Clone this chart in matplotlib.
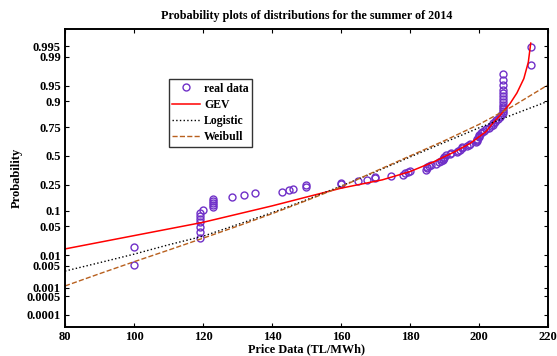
import numpy as np
import matplotlib
matplotlib.use('Agg')
import matplotlib.pyplot as plt
from statistics import NormalDist

# sorted summer 2014 prices
prices = [100, 100,
          119, 119, 119, 119, 119, 119, 119, 120,
          123, 123, 123, 123, 123,
          128.5, 132, 135,
          143, 145, 146, 150, 150,
          160, 160, 165, 167.5, 170, 170, 174.5, 178, 178.5, 179.5, 180,
          184.5, 185, 185, 185.5, 186, 187.5, 188.5, 189, 189.5, 189.5, 190, 190, 190.5,
          191.5, 192, 193.5, 194, 194.5, 195, 195, 196.5, 197, 197.5,
          199, 199.5, 199.5, 199.5, 200, 200, 200, 200.5,
          201, 201.5, 202, 203, 203.5, 204, 204, 204.5, 205, 205.5, 206, 206.5,
          207, 207, 207, 207, 207, 207, 207, 207, 207, 207, 207, 207, 207,
          215, 215]

# fitted curves
gev_x = [80, 100, 120, 140, 160, 172, 180, 187, 193, 197.5, 202, 204, 206, 207, 209, 211, 213, 214.3, 215]
gev_p = [0.0147, 0.031, 0.060, 0.121, 0.225, 0.288, 0.357, 0.447, 0.540, 0.617, 0.715, 0.778,
         0.826, 0.85, 0.89, 0.93, 0.965, 0.986, 0.9959]

logi_x = [80, 90, 100, 110, 120, 130, 140, 150, 160, 170, 180, 190, 200, 210, 220]
logi_p = [0.0035, 0.0062, 0.0107, 0.0187, 0.030, 0.054, 0.092, 0.152, 0.240, 0.355, 0.49, 0.625,
          0.745, 0.835, 0.90]

weib_x = [80, 90, 100, 110, 120, 130, 140, 150, 160, 170, 180, 190, 200, 210, 220]
weib_p = [0.00116, 0.0029, 0.0066, 0.0137, 0.027, 0.050, 0.088, 0.148, 0.235, 0.36, 0.50, 0.64,
          0.77, 0.88, 0.952]

prob_ticks = [0.0001, 0.0005, 0.001, 0.005, 0.01, 0.05, 0.1, 0.25, 0.5, 0.75, 0.9, 0.95, 0.99, 0.995]
prob_labels = ['0.0001', '0.0005', '0.001', '0.005', '0.01', '0.05', '0.1', '0.25', '0.5',
               '0.75', '0.9', '0.95', '0.99', '0.995']

nd = NormalDist()
_ppf = np.vectorize(nd.inv_cdf, otypes=[float])
_cdf = np.vectorize(nd.cdf, otypes=[float])

def fwd(p):
    p = np.clip(np.asarray(p, dtype=float), 1e-12, 1 - 1e-12)
    return _ppf(p)

def inv(z):
    return _cdf(np.asarray(z, dtype=float))

n = len(prices)
pp = (np.arange(1, n + 1) - 0.5) / n

plt.rcParams['font.family'] = ['Liberation Serif', 'DejaVu Serif']
plt.rcParams['font.weight'] = 'bold'

fig = plt.figure(figsize=(5.57, 3.56), dpi=100)
ax = fig.add_axes([0.1167, 0.0823, 0.8671, 0.8362])
ax.set_yscale('function', functions=(fwd, inv))

ax.plot(prices, pp, 'o', mfc='none', mec='#7030c8', ms=5, mew=1, label='real data')
ax.plot(gev_x, gev_p, '-', color='red', lw=1.1, label='GEV')
ax.plot(logi_x, logi_p, ':', color='black', lw=1.0, label='Logistic')
ax.plot(weib_x, weib_p, '--', color='#b8601e', lw=1.0, label='Weibull')

ax.set_xlim(80, 220)
ax.set_ylim(inv(-4.0), inv(2.974))
ax.set_xticks(range(80, 221, 20))
ax.set_yticks(prob_ticks)
ax.set_yticklabels(prob_labels)
ax.yaxis.set_minor_locator(matplotlib.ticker.NullLocator())
ax.tick_params(direction='in', length=3, width=0.8, top=True, right=True,
               labelsize=9, pad=3)
for lab in ax.get_xticklabels() + ax.get_yticklabels():
    lab.set_fontweight('bold')
for s in ax.spines.values():
    s.set_linewidth(1.4)

ax.set_title('Probability plots of distributions for the summer of 2014',
             fontsize=8.7, fontweight='bold', pad=7)
ax.set_xlabel('Price Data (TL/MWh)', fontsize=8.8, fontweight='bold', labelpad=0)
ax.set_ylabel('Probability', fontsize=9, fontweight='bold', labelpad=3)

leg = ax.legend(loc='upper left', bbox_to_anchor=(0.215, 0.832), fontsize=8.5,
                frameon=True, fancybox=False, edgecolor='black', handlelength=2.3,
                borderpad=0.3, labelspacing=0.35, handletextpad=0.4, borderaxespad=0)
leg.get_frame().set_linewidth(1.0)
for t in leg.get_texts():
    t.set_fontweight('bold')

fig.savefig('out.png', dpi=100)
